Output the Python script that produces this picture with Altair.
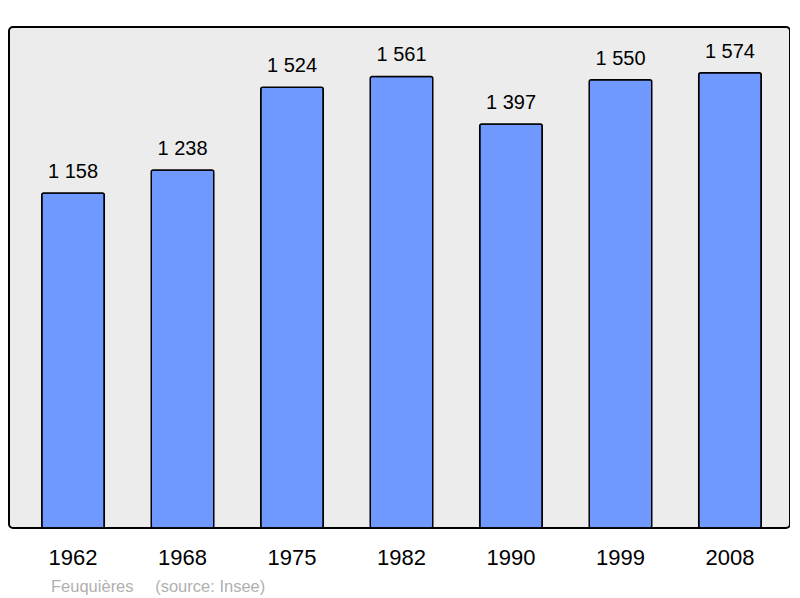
import altair as alt
import pandas as pd

years = ["1962", "1968", "1975", "1982", "1990", "1999", "2008"]
population = [1158, 1238, 1524, 1561, 1397, 1550, 1574]
labels = ["1 158", "1 238", "1 524", "1 561", "1 397", "1 550", "1 574"]

df = pd.DataFrame({"year": years, "pop": population, "label": labels})

x = alt.X(
    "year:N",
    sort=None,
    scale=alt.Scale(paddingInner=0.429, paddingOuter=0.281, range=[2, 783]),
    axis=alt.Axis(
        title=None, domain=False, ticks=False, tickSize=0, labelAngle=0,
        labelFontSize=22, labelFont="Liberation Sans", labelColor="#000000",
        labelPadding=36, labelBaseline="alphabetic",
    ),
)
y = alt.Y("pop:Q", scale=alt.Scale(domain=[0, 1732], nice=False, zero=True), axis=None)

bars = alt.Chart(df).mark_bar(
    color="#7099ff", stroke="#000000", strokeWidth=1.5, cornerRadius=2
).encode(x=x, y=y)

text = alt.Chart(df).mark_text(
    dy=-15, baseline="alphabetic", fontSize=20, font="Liberation Sans", color="#000000"
).encode(x=x, y=y, text="label:N")

chart = (
    alt.layer(bars, text)
    .properties(
        width=781,
        height=501,
        background="#ffffff",
        autosize=alt.AutoSizeParams(type="none"),
        padding={"left": 1, "top": 19, "right": 0, "bottom": 70},
        title=alt.TitleParams(
            text="Feuquières\u00a0\u00a0\u00a0\u00a0\u2009(source: Insee)",
            orient="bottom", anchor="start", dx=42, offset=24,
            fontSize=16.5, font="Liberation Sans", fontWeight="normal",
            color="#b0b0b0", baseline="alphabetic",
        ),
    )
    .configure_view(fill="#ececec", stroke="#000000", strokeWidth=2, cornerRadius=4)
)

chart.save("out.html", embed_options={"renderer": "svg", "actions": False})
